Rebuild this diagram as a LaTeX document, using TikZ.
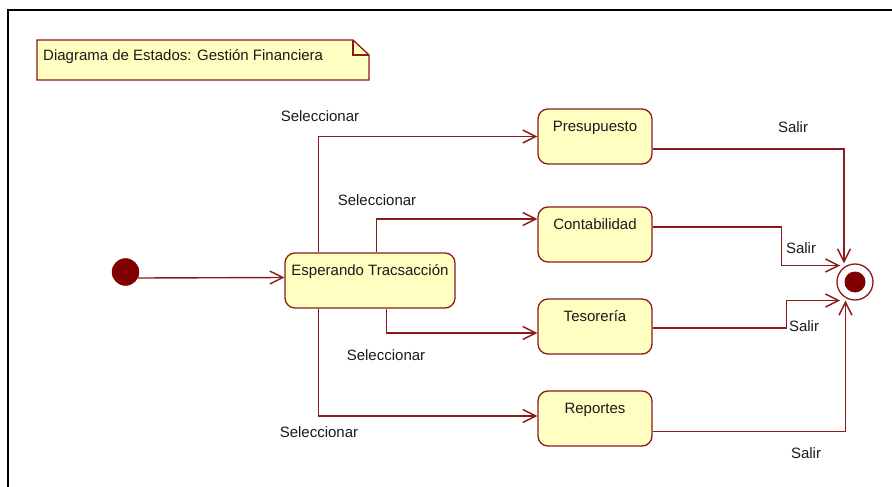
\documentclass[tikz,border=0pt]{standalone}
\usepackage{fontspec}
\setmainfont{Liberation Sans}
\usetikzlibrary{arrows.meta}

\definecolor{umlline}{HTML}{8B1A1A}
\definecolor{umlfill}{HTML}{FFFFC2}
\definecolor{umldot}{HTML}{800000}
\definecolor{umltext}{HTML}{1A1A1A}

\tikzset{
  stateshape/.style={draw=umlline, fill=umlfill, line width=1.3pt,
    rounded corners=10pt, minimum width=#1, inner xsep=0pt, inner ysep=11pt,
    text height=11pt, text depth=22pt, text=umltext, font=\fontsize{15}{18}\selectfont},
  stateshape/.default=114pt,
  trans/.style={draw=umlline, line width=1.4pt,
    -{Straight Barb[length=13pt,width=13pt,line width=1.4pt]}},
  lbl/.style={text=umltext, font=\fontsize{15}{18}\selectfont, inner sep=0pt},
  startdot/.style={circle, fill=umldot, draw=umldot, minimum size=27pt, inner sep=0pt},
  endring/.style={circle, draw=umlline, fill=white, line width=1.3pt, minimum size=36pt, inner sep=0pt},
  enddot/.style={circle, fill=umldot, minimum size=21pt, inner sep=0pt},
}

\begin{document}
\begin{tikzpicture}[x=1pt, y=-1pt]
  \useasboundingbox (0,0) rectangle (892,487);

  % diagram frame (top and left edges)
  \draw[line width=2pt] (8,487) -- (8,10) -- (892,10);

  % title note with folded corner
  \draw[draw=umlline, fill=umlfill, line width=1.3pt]
    (37,40) -- (353,40) -- (369,55) -- (369,80) -- (37,80) -- cycle;
  \draw[draw=umlline, line width=1.3pt] (353,40) -- (353,55) -- (369,55);
  \node[lbl, anchor=west] (title) at (43,57) {Diagrama de Estados: Gestión Financiera};

  % states
  \node[startdot] (init) at (125.5,272) {};
  \node[stateshape=170pt] (esp) at (370,280.5) {Esperando Tracsacción};
  \node[stateshape] (pres) at (595,136.5) {Presupuesto};
  \node[stateshape] (cont) at (595,234.5) {Contabilidad};
  \node[stateshape] (tes)  at (595,326.5) {Tesorería};
  \node[stateshape] (rep)  at (595,418.5) {Reportes};
  \node[endring] (fin) at (855,282) {};
  \node[enddot] (findot) at (fin.center) {};

  % transitions
  \draw[trans] (init.-26) -- ([yshift=3pt]esp.west);

  \draw[trans] ([xshift=34pt]esp.north west) |- (pres.west);
  \draw[trans] ([xshift=92pt]esp.north west) |- ([yshift=15.5pt]cont.west);
  \draw[trans] ([xshift=102pt]esp.south west) |- ([yshift=-6.5pt]tes.west);
  \draw[trans] ([xshift=34pt]esp.south west) |- ([yshift=2.5pt]rep.west);

  \draw[trans] ([yshift=-12.5pt]pres.east) -| ([xshift=-11pt]fin.north);
  \draw[trans] ([yshift=7.5pt]cont.east) -- ++(129,0)
    |- ([shift={(-15pt,16.5pt)}]fin.center);
  \draw[trans] ([yshift=-1.5pt]tes.east) -- ++(134,0)
    |- ([shift={(-15pt,-18.5pt)}]fin.center);
  \draw[trans] ([yshift=-13pt]rep.east) -| ([xshift=-9.5pt]fin.south);

  % transition labels
  \node[lbl] (sel1) at (320,116) {Seleccionar};
  \node[lbl] (sel2) at (377,200) {Seleccionar};
  \node[lbl] (sel3) at (386,355) {Seleccionar};
  \node[lbl] (sel4) at (319,432) {Seleccionar};
  \node[lbl] (sal1) at (793,127) {Salir};
  \node[lbl] (sal2) at (801,248) {Salir};
  \node[lbl] (sal3) at (804,326) {Salir};
  \node[lbl] (sal4) at (806,453) {Salir};
\end{tikzpicture}
\end{document}
